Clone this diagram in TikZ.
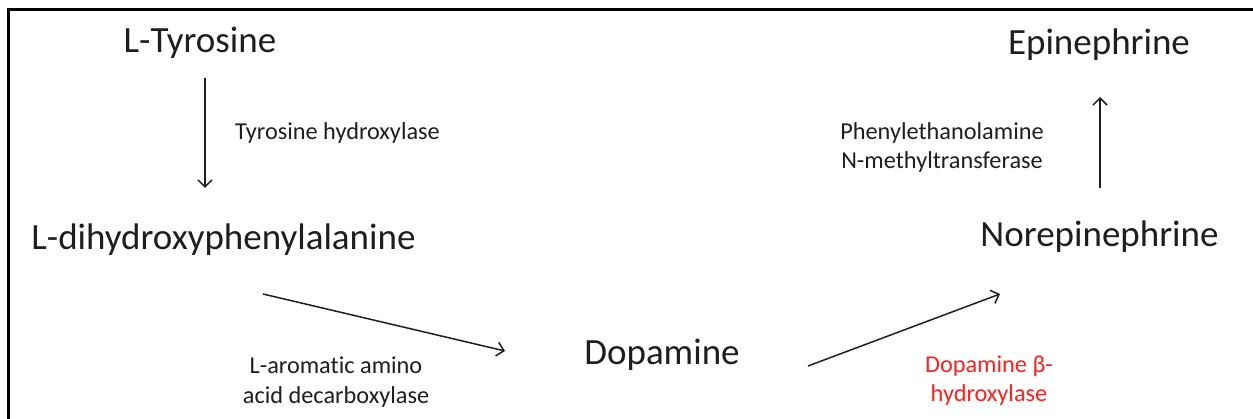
\documentclass[tikz,border=0pt]{standalone}
\usepackage{fontspec}
\setmainfont[Ligatures=NoCommon]{Carlito}
\usetikzlibrary{arrows.meta}
\definecolor{txt}{HTML}{1E1E1E}
\definecolor{enzred}{HTML}{FF2020}
\tikzset{
  big/.style={font=\fontsize{37}{42}\selectfont, text=txt, inner sep=0pt, anchor=base},
  small/.style={font=\fontsize{24.3}{29}\selectfont, text=txt, inner sep=0pt, anchor=base, align=center},
  conv/.style={line width=1.5pt, draw=txt, -{Straight Barb[length=7pt,width=14pt,line width=1.5pt]}},
  frame/.style={line width=2.5pt, black}
}
\begin{document}
\begin{tikzpicture}[x=1pt,y=-1pt]
\useasboundingbox (0,0) rectangle (1253,419);
\coordinate (fa) at (8.5,419);
\coordinate (fb) at (8.5,9.5);
\coordinate (fc) at (1253,9.5);
\draw[frame] (fa) -- (fb) -- (fc);

\node[big] (tyr) at (200,53) {L-Tyrosine};
\node[big] (dopa) at (223.5,250) {L-dihydroxyphenylalanine};
\node[big] (dop) at (662,365) {Dopamine};
\node[big] (nor) at (1099.5,247) {Norepinephrine};
\node[big] (epi) at (1099,55) {Epinephrine};

\node[small, anchor=base west] (e1) at (235,140) {Tyrosine hydroxylase};
\node[small] (e2) at (336,403) {L-aromatic amino\\acid decarboxylase};
\node[small, text=enzred] (e3) at (989,402) {Dopamine β-\\hydroxylase};
\node[small] (e4) at (942,169) {Phenylethanolamine\\N-methyltransferase};

\coordinate (a1s) at (205,78);
\coordinate (a1e) at (205,188);
\coordinate (a2s) at (263,294);
\coordinate (a2e) at (505,351);
\coordinate (a3s) at (808,366);
\coordinate (a3e) at (1000,294);
\coordinate (a4s) at (1100,188);
\coordinate (a4e) at (1100,97);
\draw[conv] (a1s) -- (a1e);
\draw[conv] (a2s) -- (a2e);
\draw[conv] (a3s) -- (a3e);
\draw[conv] (a4s) -- (a4e);
\end{tikzpicture}
\end{document}
